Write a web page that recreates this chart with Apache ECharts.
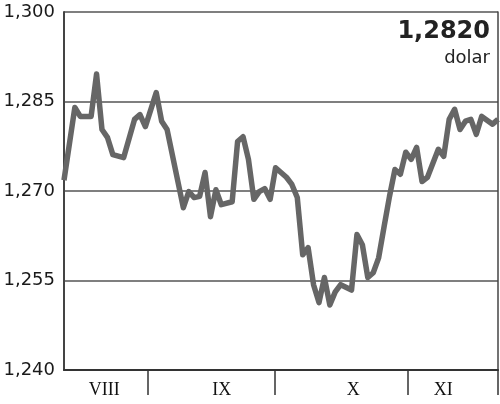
<!DOCTYPE html>
<html>
<head>
<meta charset="utf-8">
<script src="https://cdn.jsdelivr.net/npm/echarts@6/dist/echarts.min.js"></script>
<style>
  html, body { margin: 0; padding: 0; background: #fff; }
  #main { width: 500px; height: 404px; }
</style>
</head>
<body>
<div id="main"></div>
<script>
// kurs dnia (numer sesji) i wartość
var days = [0, 2, 3, 5, 6, 7, 8, 9, 11, 13, 14, 15, 17, 18, 19, 22, 23, 24, 25, 26, 27, 28, 29, 31,
  32, 33, 34, 35, 36, 37, 38, 39, 41, 42, 43, 44, 45, 46, 47, 48, 49, 50, 51, 53, 54, 55, 56, 57,
  58, 59, 60, 61, 62, 63, 64, 65, 66, 67, 69, 70, 71, 72, 73, 74, 75, 76, 77, 79, 80];
var rates = [1.2718, 1.2840, 1.2825, 1.2825, 1.2896, 1.2803, 1.2790, 1.2761, 1.2756, 1.2820, 1.2828,
  1.2808, 1.2865, 1.2817, 1.2803, 1.2672, 1.2699, 1.2689, 1.2691, 1.2731, 1.2657, 1.2702, 1.2677,
  1.2682, 1.2783, 1.2791, 1.2753, 1.2686, 1.2699, 1.2704, 1.2686, 1.2739, 1.2723, 1.2711, 1.2689,
  1.2593, 1.2605, 1.2543, 1.2513, 1.2555, 1.2509, 1.2531, 1.2543, 1.2534, 1.2627, 1.2610, 1.2555,
  1.2563, 1.2588, 1.2640, 1.2691, 1.2736, 1.2728, 1.2765, 1.2753, 1.2773, 1.2716, 1.2723, 1.2770,
  1.2758, 1.2820, 1.2837, 1.2803, 1.2817, 1.2820, 1.2795, 1.2825, 1.2812, 1.2820];

var months = ['VIII', 'IX', 'X', 'XI'];
var monthMid = [7.4, 29.1, 53.3, 69.9];   // środek podpisu miesiąca (w sesjach)
var monthEdge = [15.5, 38.9, 63.4, 80];   // granice miesięcy

var yBase = 1.240;  // dół osi
var yTicks = ['1,240', '1,255', '1,270', '1,285', '1,300'];
var lastValue = '1,2820';
var unit = 'dolar';

// os Y liczona w tysięcznych od 1,240, zeby podzialki szly co 15
var seriesData = [];
for (var i = 0; i < days.length; i++) {
  seriesData.push([days[i], Math.round((rates[i] - yBase) * 10000) / 10]);
}

var myChart = echarts.init(document.getElementById('main'));
var option = {
  animation: false,
  grid: { left: 64, right: 2, top: 12, bottom: 34 },
  xAxis: {
    type: 'value',
    min: 0,
    max: 80,
    axisLine: { show: true, lineStyle: { color: '#333', width: 2 } },
    axisTick: {
      show: true,
      inside: false,
      length: 25,
      customValues: monthEdge,
      lineStyle: { color: '#333', width: 1.5 }
    },
    axisLabel: {
      customValues: monthMid,
      margin: 11,
      color: '#111',
      fontFamily: 'Liberation Serif',
      fontSize: 18,
      formatter: function (v) {
        return months[monthMid.indexOf(v)];
      }
    },
    splitLine: { show: false }
  },
  yAxis: [{
    type: 'value',
    min: 0,
    max: 60,
    interval: 15,
    axisLine: { show: true, lineStyle: { color: '#444', width: 2 } },
    axisTick: { show: false },
    axisLabel: {
      margin: 9,
      color: '#1a1a1a',
      fontFamily: 'DejaVu Sans',
      fontSize: 18,
      formatter: function (v) {
        return yTicks[v / 15];
      }
    },
    splitLine: { show: true, lineStyle: { color: '#555', width: 1.5 } }
  }, {
    type: 'value',
    position: 'right',
    min: 0,
    max: 60,
    axisLine: { show: true, lineStyle: { color: '#444', width: 1.5 } },
    axisTick: { show: false },
    axisLabel: { show: false },
    splitLine: { show: false }
  }],
  graphic: [{
    type: 'text',
    right: 10,
    top: 20,
    style: {
      text: lastValue,
      fill: '#222',
      font: 'bold 24px "DejaVu Sans"'
    }
  }, {
    type: 'text',
    right: 10,
    top: 49,
    style: {
      text: unit,
      fill: '#222',
      font: '18px "DejaVu Sans"'
    }
  }],
  series: [{
    type: 'line',
    data: seriesData,
    showSymbol: false,
    smooth: false,
    lineStyle: { color: '#666', width: 5.5, join: 'round' }
  }]
};
myChart.setOption(option);
</script>
</body>
</html>
